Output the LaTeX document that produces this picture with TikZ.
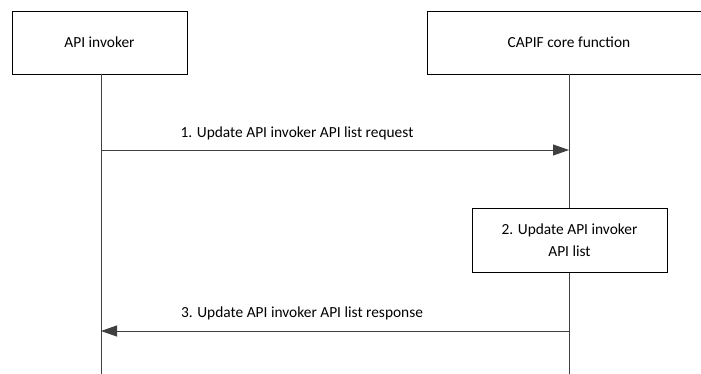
\documentclass[tikz,border=0pt]{standalone}
\usepackage{fontspec}
\setmainfont{Carlito}
\usetikzlibrary{arrows.meta}
\definecolor{ln}{HTML}{404040}
\tikzset{
  actor/.style={draw=black, line width=0.9pt, fill=white, minimum height=63pt, align=center, inner sep=0pt, font=\fontsize{15.4}{18.5}\selectfont},
  procbox/.style={draw=black, line width=0.9pt, fill=white, minimum width=195pt, minimum height=64pt, align=center, inner sep=0pt, font=\fontsize{15.4}{22}\selectfont},
  life/.style={draw=ln, line width=0.9pt},
  msg/.style={draw=ln, line width=0.9pt, -{Triangle[length=16pt,width=11pt]}, ln},
  lbl/.style={font=\fontsize{15.4}{18.5}\selectfont, inner sep=0pt}
}
\begin{document}
\begin{tikzpicture}[x=1pt,y=-1pt]
\useasboundingbox (0,0) rectangle (701,374);
\clip (0,0) rectangle (701,374);
\fill[white] (0,0) rectangle (701,374);
\coordinate (aend) at (101,374);
\coordinate (cend) at (569,374);
\node[actor, minimum width=175pt] (api) at (99.5,42.5) {API invoker};
\node[actor, minimum width=284pt] (capif) at (569,42.5) {CAPIF core function};
\draw[life] (101,74) -- (aend);
\draw[life] (569,74) -- (cend);
\coordinate (m1s) at (101,150);
\coordinate (m1e) at (569,150);
\coordinate (m3s) at (569,331);
\coordinate (m3e) at (101,331);
\node[procbox] (proc) at (569.5,240) {2. Update API invoker\\API list};
\draw[msg] (m1s) -- (m1e);
\draw[msg] (m3s) -- (m3e);
\node[lbl] (l1) at (297,133) {1. Update API invoker API list request};
\node[lbl] (l3) at (302,313) {3. Update API invoker API list response};
\end{tikzpicture}
\end{document}
